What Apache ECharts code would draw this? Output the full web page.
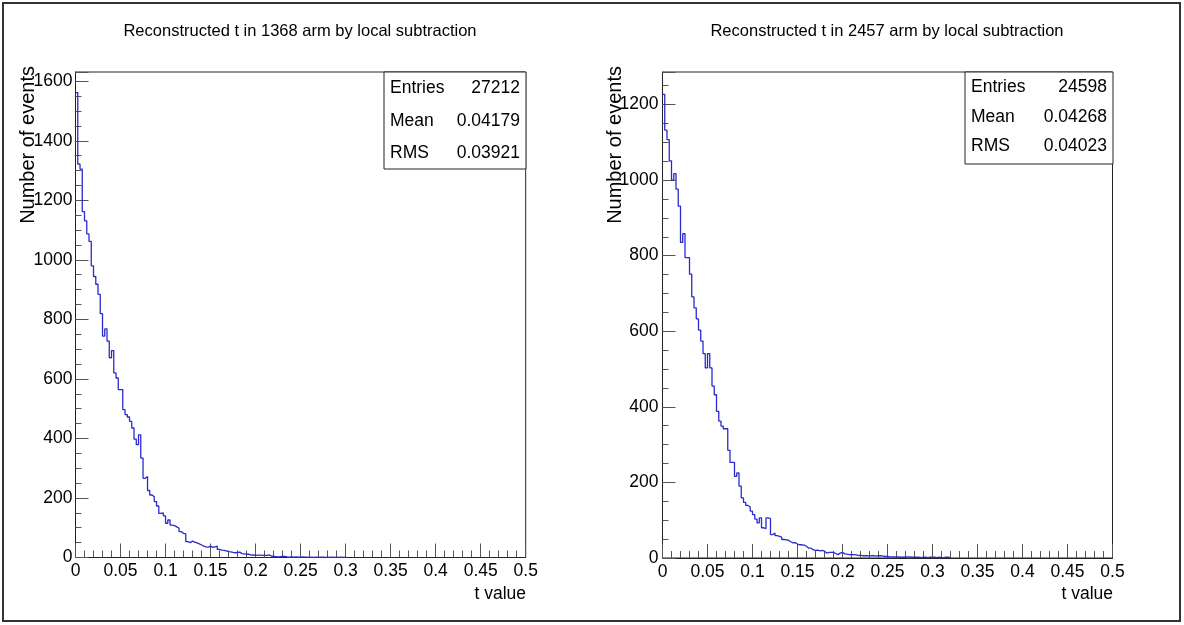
<!DOCTYPE html>
<html><head><meta charset="utf-8">
<script src="https://cdn.jsdelivr.net/npm/echarts@6/dist/echarts.min.js"></script>
<style>html,body{margin:0;padding:0;background:#fff}#c{width:1184px;height:625px}</style>
</head><body><div id="c"></div>
<script>
// ---- data ----
const binWidth = 0.0025;          // 200 bins over [0, 0.5]
const xRange = [0, 0.5];
const xTickStep = 0.05;
const yTickStep = 200;
const yMinorStep = 50;

const titleLeft = 'Reconstructed t in 1368 arm by local subtraction';
const titleRight = 'Reconstructed t in 2457 arm by local subtraction';
const xName = 't value';
const yName = 'Number of events';

const statsLabels = ['Entries', 'Mean', 'RMS'];
const statsLeft = ['27212', '0.04179', '0.03921'];
const statsRight = ['24598', '0.04268', '0.04023'];

const yMaxLeft = 1631;
const yMaxRight = 1286;

const countsLeft = [
 1562,1322,1305,1162,1131,1087,1062,980,944,918,
 884,819,744,768,727,671,695,620,603,564,
 564,497,480,472,457,435,398,379,412,334,
 266,272,225,210,204,188,173,148,150,140,
 115,126,109,107,103,98,87,81,79,53,
 50,55,52,49,46,42,38,36,35,38,
 34,36,38,27,25,24,22,20,19,17,
 16,17,18,13,12,11,11,8,9,7,
 8,8,7,7,7,9,5,4,3,2,
 3,4,4,2,1,2,1,2,1,1,
 2,1,1,0,1,0,1,0,1,1,
 0,1,0,1,0,1,0,1,0,1
];

const countsRight = [
 1227,1132,1107,1051,1000,1017,976,931,835,858,
 795,795,751,691,662,633,603,574,541,503,
 541,503,455,432,388,362,349,342,342,285,
 253,253,216,225,190,159,147,139,135,124,
 115,103,93,106,80,78,106,104,62,66,
 59,57,55,49,48,47,43,40,41,37,
 35,35,34,31,26,26,22,20,21,19,
 20,18,13,15,15,15,12,9,13,15,
 11,10,9,9,9,8,7,7,6,6,
 6,5,6,6,5,6,6,5,4,4,
 3,3,3,2,3,2,2,2,3,3,
 2,2,2,2,1,2,2,1,2,2,
 2,1,2,1,1,2,2,1
];

// ---- build ----
function histData(counts) {
  const d = counts.map((c, i) => [i * binWidth, c]);
  d.push([counts.length * binWidth, 0]);
  return d;
}

const FONT = "'Liberation Sans', Arial, Helvetica, sans-serif";
const lineCol = '#222';
const tickCol = '#555';
const histCol = '#2a2acc';

function xAxisFor(g) {
  return {
    gridIndex: g, type: 'value', position: 'bottom',
    min: xRange[0], max: xRange[1], interval: xTickStep,
    axisLine: { show: true, lineStyle: { color: lineCol, width: 1 } },
    axisTick: { show: true, inside: true, length: 14, lineStyle: { color: tickCol, width: 1 } },
    minorTick: { show: true, splitNumber: 5, length: 7, lineStyle: { color: tickCol, width: 1 } },
    axisLabel: { margin: 5, fontSize: 17.5, color: '#000', fontFamily: FONT,
      formatter: v => String(+(+v).toFixed(3)) },
    splitLine: { show: false }, minorSplitLine: { show: false }
  };
}
function yAxisMajor(g, max, margin) {
  return {
    gridIndex: g, type: 'value', position: 'left', min: 0, max: max, interval: yTickStep,
    axisLine: { show: true, lineStyle: { color: lineCol, width: 1 } },
    axisTick: { show: true, inside: true, length: 13, lineStyle: { color: tickCol, width: 1 } },
    axisLabel: { margin: margin, fontSize: 17.5, color: '#000', fontFamily: FONT,
      formatter: v => (Math.abs(v % yTickStep) < 1e-6 ? String(v) : '') },
    splitLine: { show: false }
  };
}
function yAxisMinor(g, max) {
  return {
    gridIndex: g, type: 'value', position: 'left', min: 0, max: max, interval: yMinorStep,
    axisLine: { show: false },
    axisTick: { show: true, inside: true, length: 6, lineStyle: { color: tickCol, width: 1 } },
    axisLabel: { show: false }, splitLine: { show: false }
  };
}

function statsBox(x, y, w, h, values, rowYs) {
  const els = [{
    type: 'rect', shape: { x: x, y: y, width: w, height: h },
    style: { fill: '#fff', stroke: '#222', lineWidth: 1 }, z: 100
  }];
  statsLabels.forEach((lab, i) => {
    els.push({ type: 'text', x: x + 6, y: rowYs[i], z: 101,
      style: { text: lab, font: '17.5px ' + FONT, fill: '#000', align: 'left', verticalAlign: 'middle' } });
    els.push({ type: 'text', x: x + w - 6, y: rowYs[i], z: 101,
      style: { text: values[i], font: '17.5px ' + FONT, fill: '#000', align: 'right', verticalAlign: 'middle' } });
  });
  return els;
}

const chart = echarts.init(document.getElementById('c'), null, { renderer: 'canvas' });
chart.setOption({
  animation: false,
  backgroundColor: '#fff',
  grid: [
    { left: 75.5, top: 72, width: 450.2, height: 485.5, show: true, borderColor: lineCol, borderWidth: 1, backgroundColor: 'transparent' },
    { left: 662.5, top: 72, width: 450, height: 486, show: true, borderColor: lineCol, borderWidth: 1, backgroundColor: 'transparent' }
  ],
  xAxis: [xAxisFor(0), xAxisFor(1)],
  yAxis: [yAxisMajor(0, yMaxLeft, 3), yAxisMinor(0, yMaxLeft), yAxisMajor(1, yMaxRight, 4), yAxisMinor(1, yMaxRight)],
  series: [
    { type: 'line', xAxisIndex: 0, yAxisIndex: 0, step: 'end', data: histData(countsLeft),
      symbol: 'none', showSymbol: false, lineStyle: { color: histCol, width: 1.3 }, z: 5 },
    { type: 'line', xAxisIndex: 1, yAxisIndex: 2, step: 'end', data: histData(countsRight),
      symbol: 'none', showSymbol: false, lineStyle: { color: histCol, width: 1.3 }, z: 5 }
  ],
  graphic: [
    { type: 'rect', shape: { x: 3, y: 3, width: 1177, height: 618 }, style: { fill: 'none', stroke: '#333', lineWidth: 2 } },
    { type: 'text', x: 300, y: 31, style: { text: titleLeft, font: '16.5px ' + FONT, fill: '#000', align: 'center', verticalAlign: 'middle' } },
    { type: 'text', x: 887, y: 31, style: { text: titleRight, font: '16.5px ' + FONT, fill: '#000', align: 'center', verticalAlign: 'middle' } },
    { type: 'text', x: 28, y: 66, rotation: Math.PI / 2, style: { text: yName, font: '20px ' + FONT, fill: '#000', align: 'right', verticalAlign: 'middle' } },
    { type: 'text', x: 615, y: 66, rotation: Math.PI / 2, style: { text: yName, font: '20px ' + FONT, fill: '#000', align: 'right', verticalAlign: 'middle' } },
    { type: 'text', x: 526, y: 594, style: { text: xName, font: '17.5px ' + FONT, fill: '#000', align: 'right', verticalAlign: 'middle' } },
    { type: 'text', x: 1113, y: 594, style: { text: xName, font: '17.5px ' + FONT, fill: '#000', align: 'right', verticalAlign: 'middle' } }
  ]
  .concat(statsBox(384, 72, 142, 97, statsLeft, [88, 121, 153]))
  .concat(statsBox(965, 72, 148, 92, statsRight, [87, 117, 146]))
});
</script>
</body></html>
